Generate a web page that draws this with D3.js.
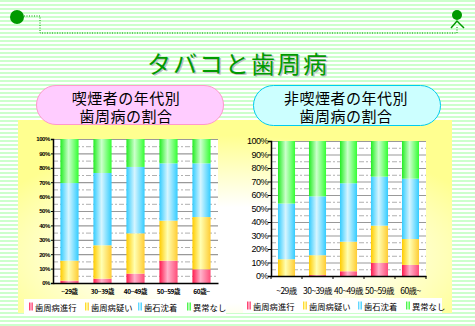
<!DOCTYPE html>
<html><head><meta charset="utf-8">
<script src="https://cdn.jsdelivr.net/npm/d3@7"></script>
<style>body{margin:0;background:#fff}svg{display:block}</style>
</head><body><svg id="c" width="475" height="326"></svg>
<script>
// ---------- data ----------
const ageGroups = ["~29歳","30~39歳","40~49歳","50~59歳","60歳~"];
const seriesNames = ["歯周病進行","歯周病疑い","歯石沈着","異常なし"];
const smokerAdvanced  = [1.6, 3.0, 6.5, 15.5, 9.5];
const smokerSuspected = [13.9, 23.2, 28.0, 27.8, 36.3];
const smokerTartar    = [53.9, 50.2, 46.1, 39.8, 37.3];
const smokerNormal    = [30.6, 23.6, 19.4, 16.9, 16.9];
const nonSmokerAdvanced  = [0, 0.7, 3.5, 9.7, 8.2];
const nonSmokerSuspected = [12.4, 14.7, 21.9, 27.6, 19.2];
const nonSmokerTartar    = [41.3, 43.6, 43.3, 36.3, 44.7];
const nonSmokerNormal    = [46.3, 41.0, 31.3, 26.4, 27.9];
const yTickValues = [0,10,20,30,40,50,60,70,80,90,100];
const yMinorValues = [5,15,25,35,45,55,65,75,85,95];
const titleText = "タバコと歯周病";
const leftTitle = ["喫煙者の年代別","歯周病の割合"];
const rightTitle = ["非喫煙者の年代別","歯周病の割合"];

const JP = "'Noto Sans CJK JP', sans-serif";
const svg = d3.select("#c");
const defs = svg.append("defs");

// stripes
const pat = defs.append("pattern").attr("id","stripes").attr("patternUnits","userSpaceOnUse")
  .attr("width",4).attr("height",4);
pat.append("rect").attr("width",4).attr("height",4).attr("fill","#ffffff");
pat.append("rect").attr("width",4).attr("height",2).attr("fill","#ccffcc");
svg.append("rect").attr("width",475).attr("height",326).attr("fill","url(#stripes)");

// panel gradient
const rg = defs.append("radialGradient").attr("id","panelGrad")
  .attr("cx","50%").attr("cy","70%").attr("r","62%");
rg.append("stop").attr("offset","0%").attr("stop-color","#ffffff");
rg.append("stop").attr("offset","40%").attr("stop-color","#ffffff");
rg.append("stop").attr("offset","100%").attr("stop-color","#ffff90");
svg.append("rect").attr("x",18).attr("y",120).attr("width",434).attr("height",193)
  .attr("fill","url(#panelGrad)");

// bar gradients
const barColors = [
  ["#ff1a4d","#ffb3cc","#ff4d79"],
  ["#ffcc00","#ffffb3","#ffcc33"],
  ["#33ccff","#d6f5ff","#33ccff"],
  ["#22ee22","#ccffcc","#33ff33"]
];
barColors.forEach((c,i)=>{
  const lg = defs.append("linearGradient").attr("id","bg"+i).attr("x1",0).attr("x2",1).attr("y1",0).attr("y2",0);
  lg.append("stop").attr("offset","0%").attr("stop-color",c[0]);
  lg.append("stop").attr("offset","45%").attr("stop-color",c[1]);
  lg.append("stop").attr("offset","100%").attr("stop-color",c[2]);
});

// top decoration
const deco = svg.append("g").attr("stroke","#009900").attr("fill","none");
deco.append("path").attr("d","M24,16H40V33H457V27").attr("stroke-width",1).attr("stroke-dasharray","1,1.5");
svg.append("circle").attr("cx",17).attr("cy",17).attr("r",7).attr("fill","#009900");
svg.append("circle").attr("cx",457).attr("cy",15).attr("r",5).attr("fill","#009900");
deco.append("path").attr("d","M451,28L457,21L464,28").attr("stroke-width",1.5);

// title
[["#c0c0c0",1.5],["#009a00",0]].forEach(([col,o])=>{
  svg.append("text").attr("x",238+o).attr("y",62+o).attr("text-anchor","middle")
    .attr("dominant-baseline","central").attr("font-family",JP).attr("font-size",24)
    .attr("letter-spacing",2).attr("fill",col).text(titleText);
});

// bubbles
function bubble(x,y,w,h,fill,stroke,lines,cx){
  svg.append("rect").attr("x",x).attr("y",y).attr("width",w).attr("height",h)
    .attr("rx",h/2).attr("ry",h/2).attr("fill",fill).attr("stroke",stroke).attr("stroke-width",1);
  const t = svg.append("text").attr("text-anchor","middle")
    .attr("font-family",JP).attr("font-size",15).attr("letter-spacing",0.5).attr("fill","#000");
  lines.forEach((s,i)=>{
    t.append("tspan").attr("x",cx).attr("y",i?122:103.5).text(s);
  });
}
bubble(36.5,85.5,187,39,"#ffccff","#ff99cc",leftTitle,126);
bubble(253.5,85.5,187,40,"#ccffff","#00ccee",rightTitle,346);

// charts
function drawChart(cfg, cols){
  const g = svg.append("g");
  const x = d3.scaleBand().domain(ageGroups).range([cfg.x0,cfg.x1]).paddingInner(0.45).paddingOuter(0.225);
  const y = d3.scaleLinear().domain([0,100]).range([cfg.y0,cfg.y1]);
  g.append("rect").attr("x",cfg.x0).attr("y",cfg.y1).attr("width",cfg.x1-cfg.x0).attr("height",cfg.y0-cfg.y1).attr("fill","#fff");
  // gridlines
  g.selectAll(".minor").data(yMinorValues).join("line")
    .attr("x1",cfg.x0).attr("x2",cfg.x1).attr("y1",d=>y(d)+0.5).attr("y2",d=>y(d)+0.5)
    .attr("stroke","#b0b0b0").attr("stroke-dasharray","5,2,2,2");
  g.selectAll(".major").data(yTickValues.slice(1)).join("line")
    .attr("x1",cfg.x0).attr("x2",cfg.x1).attr("y1",d=>y(d)+0.5).attr("y2",d=>y(d)+0.5)
    .attr("stroke","#999999").attr("stroke-width",1.2);
  // bars
  const rows = ageGroups.map((a,i)=>{ const r={age:a}; seriesNames.forEach((s,k)=>r[s]=cols[k][i]); return r; });
  const stacked = d3.stack().keys(seriesNames)(rows);
  stacked.forEach((layer,k)=>{
    g.selectAll(null).data(layer).join("rect")
      .attr("x",d=>x(d.data.age)).attr("width",x.bandwidth())
      .attr("y",d=>y(d[1])).attr("height",d=>Math.max(0,y(d[0])-y(d[1])))
      .attr("fill","url(#bg"+k+")");
  });
  // y axis
  const ya = g.append("g").attr("transform",`translate(${cfg.x0},0)`)
    .call(d3.axisLeft(y).tickValues(yTickValues).tickFormat(d=>d+"%").tickSize(cfg.tickSize).tickPadding(cfg.tickPad));
  ya.select(".domain").attr("stroke","#000").attr("stroke-width",1.5);
  ya.selectAll("line").attr("stroke","#000");
  ya.selectAll("text").attr("font-family","'Liberation Sans', sans-serif").attr("font-size",cfg.yFont)
    .attr("font-weight",cfg.bold?"bold":"normal").attr("letter-spacing",cfg.ls).attr("fill","#000");
  // x axis
  const xa = g.append("g").attr("transform",`translate(0,${cfg.y0})`)
    .call(d3.axisBottom(x).tickSize(0).tickPadding(cfg.xPad));
  xa.select(".domain").attr("stroke","#000").attr("stroke-width",1.5);
  xa.selectAll("text").attr("font-family",JP).attr("font-size",cfg.xFont)
    .attr("font-weight",cfg.bold?"bold":"normal").attr("letter-spacing",cfg.ls).attr("fill","#000");
  if(cfg.bandTicks){
    const edges = ageGroups.map(a=>x(a)-x.step()*x.paddingInner()/2).concat([cfg.x1]);
    edges[0]=cfg.x0;
    g.selectAll(null).data(edges).join("line").attr("x1",d=>d).attr("x2",d=>d)
      .attr("y1",cfg.y0).attr("y2",cfg.y0+3).attr("stroke","#000");
  }
  // legend
  const lg = g.append("g");
  lg.append("rect").attr("x",cfg.lx).attr("y",cfg.ly).attr("width",cfg.lw).attr("height",15).attr("fill","#fff");
  seriesNames.forEach((s,k)=>{
    lg.append("rect").attr("x",cfg.legX[k]).attr("y",cfg.ly+3.5).attr("width",4).attr("height",8).attr("fill","url(#bg"+k+")");
    lg.append("text").attr("x",cfg.legX[k]+6).attr("y",cfg.ly+8).attr("dominant-baseline","central")
      .attr("font-family",JP).attr("font-size",8.3).attr("fill","#000").text(s);
  });
}

drawChart({x0:53,x1:218,y0:283,y1:139,tickSize:2,tickPad:1,yFont:6,xFont:6.5,bold:true,ls:-0.4,xPad:6,
  bandTicks:false,lx:24,ly:299,lw:202,legX:[29,85,138,187]},
  [smokerAdvanced,smokerSuspected,smokerTartar,smokerNormal]);
drawChart({x0:271,x1:426,y0:276,y1:141,tickSize:3,tickPad:0,yFont:9,xFont:8.5,bold:false,ls:-0.5,xPad:12,
  bandTicks:true,lx:243,ly:298,lw:199,legX:[247,303,358,406]},
  [nonSmokerAdvanced,nonSmokerSuspected,nonSmokerTartar,nonSmokerNormal]);
</script></body></html>
